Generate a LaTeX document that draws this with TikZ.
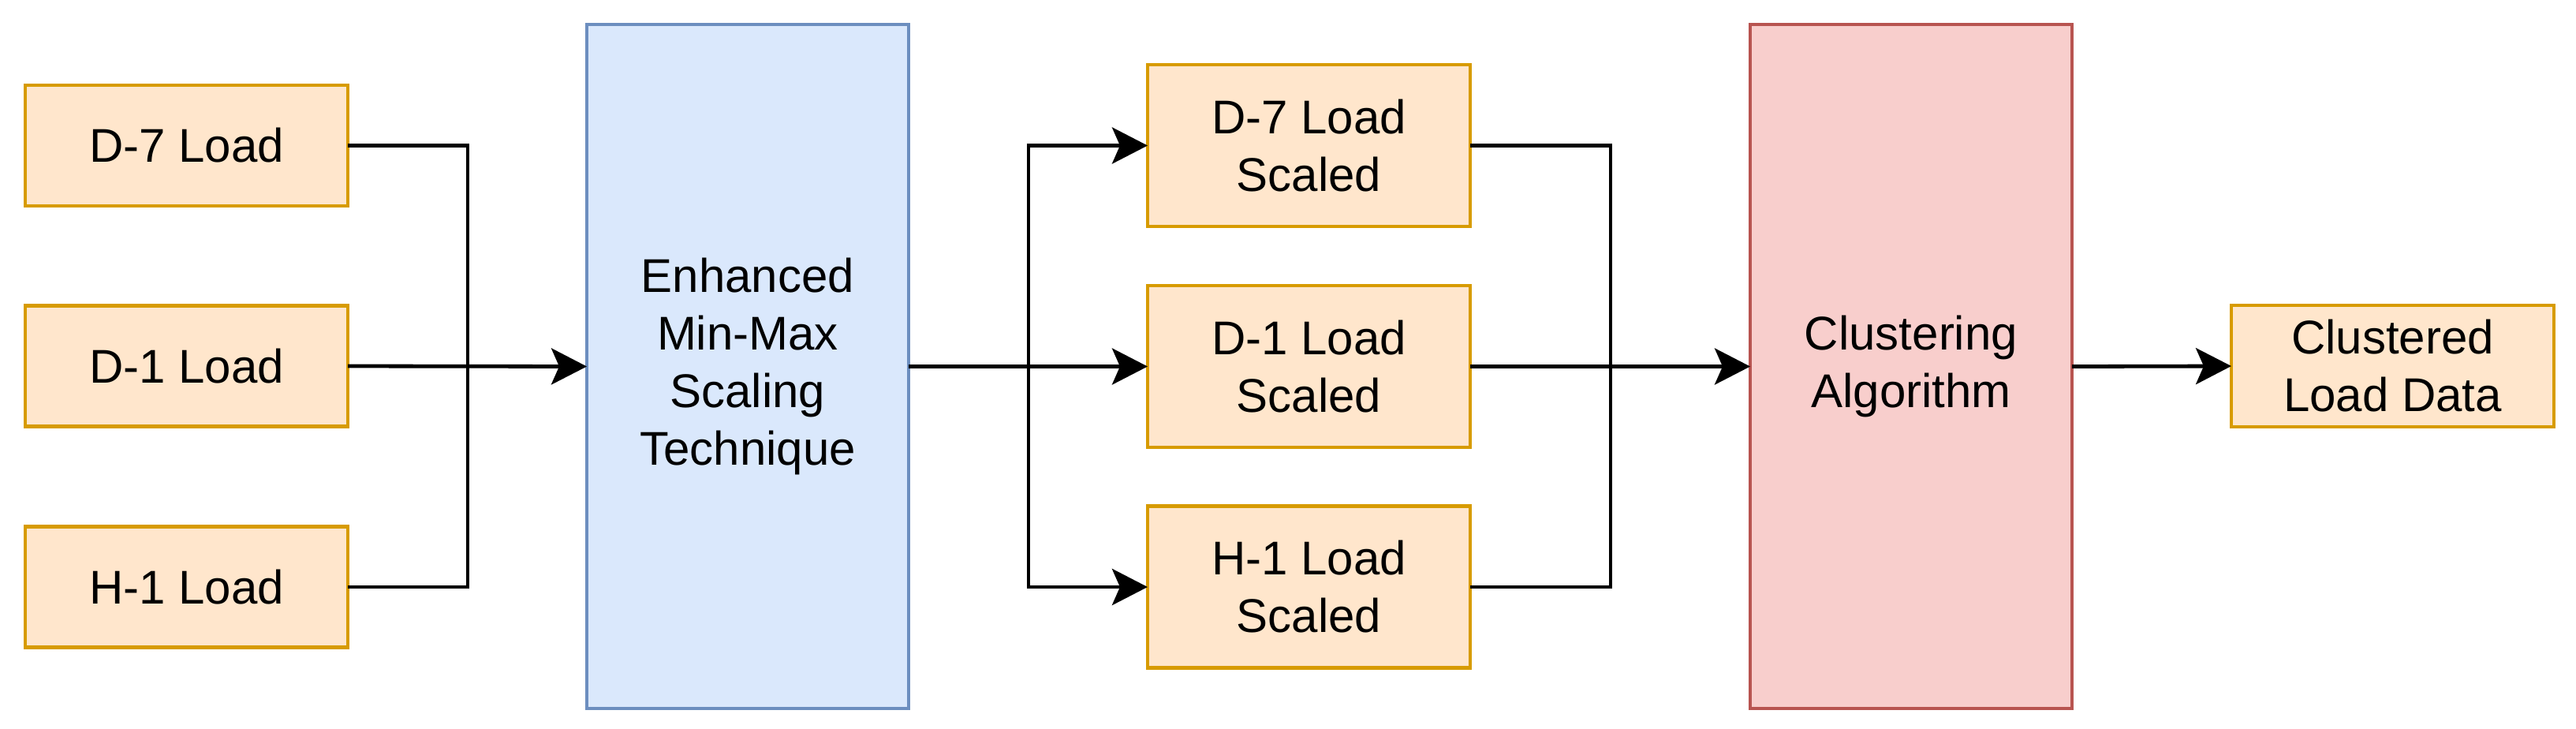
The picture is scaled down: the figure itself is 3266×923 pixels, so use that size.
\documentclass[tikz,border=0pt]{standalone}
\usepackage{fontspec}
\setmainfont{Liberation Sans}
\usetikzlibrary{arrows.meta}
\definecolor{orFill}{HTML}{FFE6CC}
\definecolor{orDraw}{HTML}{D79B00}
\definecolor{blFill}{HTML}{DAE8FC}
\definecolor{blDraw}{HTML}{6C8EBF}
\definecolor{rdFill}{HTML}{F8CECC}
\definecolor{rdDraw}{HTML}{B85450}
\tikzset{
  box/.style={rectangle, line width=2.4pt, inner sep=0pt, outer sep=0pt, align=center,
    font=\fontsize{30pt}{36.5pt}\selectfont},
  orbox/.style={box, fill=orFill, draw=orDraw},
  blbox/.style={box, fill=blFill, draw=blDraw},
  rdbox/.style={box, fill=rdFill, draw=rdDraw},
  conn/.style={line width=2.4pt, draw=black},
  arr/.style={conn, -{Stealth[length=22.5pt, width=23pt, inset=5pt]}}
}
\begin{document}
\begin{tikzpicture}[x=0.5pt, y=-0.5pt]
\useasboundingbox (0,0) rectangle (3266,923);
% input boxes
\node[orbox, minimum width=204.5pt, minimum height=76.5pt] (in7) at (236.5,184.5) {D-7 Load};
\node[orbox, minimum width=204.5pt, minimum height=76.5pt] (in1) at (236.5,464) {D-1 Load};
\node[orbox, minimum width=204.5pt, minimum height=76.5pt] (inH) at (236.5,744) {H-1 Load};
% scaling technique
\node[blbox, minimum width=204pt, minimum height=433.5pt] (enh) at (948,464.5) {Enhanced\\Min-Max\\Scaling\\Technique};
% scaled boxes
\node[orbox, minimum width=204.5pt, minimum height=102.5pt] (sc7) at (1659.5,184.5) {D-7 Load\\Scaled};
\node[orbox, minimum width=204.5pt, minimum height=102.5pt] (sc1) at (1659.5,464.5) {D-1 Load\\Scaled};
\node[orbox, minimum width=204.5pt, minimum height=102.5pt] (scH) at (1659.5,744) {H-1 Load\\Scaled};
% clustering
\node[rdbox, minimum width=204pt, minimum height=433.5pt] (clu) at (2423,464.5) {Clustering\\Algorithm};
% output
\node[orbox, minimum width=204.5pt, minimum height=77pt] (out) at (3033.5,464) {Clustered\\Load Data};
% bus coordinates
\coordinate (b1) at (593,464);
\coordinate (s1) at (1304,464.5);
\coordinate (m1) at (2042,464.5);
% input merge
\draw[conn] (in7.east) -| (b1);
\draw[conn] (inH.east) -| (b1);
\draw[arr] (in1.east) -- (enh.west);
% split
\draw[arr] (enh.east) -- (sc1.west);
\draw[arr] (s1) |- (sc7.west);
\draw[arr] (s1) |- (scH.west);
% scaled merge
\draw[conn] (sc7.east) -| (m1);
\draw[conn] (scH.east) -| (m1);
\draw[arr] (sc1.east) -- (clu.west);
% output
\draw[arr] (clu.east) -- (out.west);
\end{tikzpicture}
\end{document}
